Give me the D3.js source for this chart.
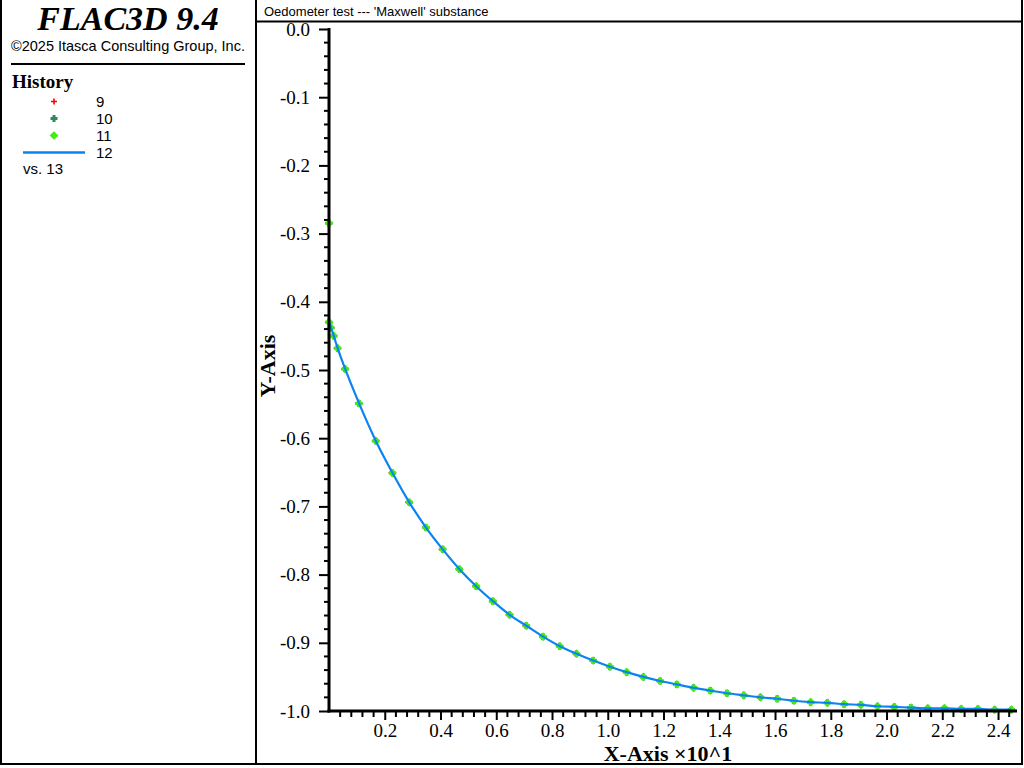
<!DOCTYPE html>
<html>
<head>
<meta charset="utf-8">
<script src="https://cdn.jsdelivr.net/npm/d3@7"></script>
<style>
  body { margin: 0; background: #fff; }
  .serif { font-family: "Liberation Serif", "Times New Roman", serif; }
  .sans { font-family: "Liberation Sans", Arial, sans-serif; }
</style>
</head>
<body>
<div id="chart_container"></div>
<script>
// history sample times (x, in units of 10^1) and values
const startTime = 0;
const startSpike = -0.285;
const histTimes = [0, 0.007, 0.017, 0.031, 0.058, 0.108, 0.168, 0.228, 0.288, 0.348,
  0.408, 0.468, 0.528, 0.588, 0.648, 0.708, 0.768, 0.828, 0.888, 0.948,
  1.008, 1.068, 1.128, 1.188, 1.248, 1.308, 1.368, 1.428, 1.488, 1.548,
  1.608, 1.668, 1.728, 1.788, 1.848, 1.908, 1.968, 2.028, 2.088, 2.148,
  2.208, 2.268, 2.328, 2.388, 2.448];
const histValues = [-0.430, -0.438, -0.450, -0.468, -0.4985, -0.549, -0.604, -0.651, -0.694, -0.731,
  -0.763, -0.792, -0.817, -0.839, -0.859, -0.875, -0.891, -0.905, -0.916, -0.926,
  -0.935, -0.943, -0.950, -0.956, -0.961, -0.966, -0.970, -0.974, -0.977, -0.980,
  -0.982, -0.985, -0.987, -0.988, -0.990, -0.991, -0.993, -0.994, -0.995, -0.996,
  -0.996, -0.997, -0.997, -0.998, -0.998];

const yMajorTicks = [0, -0.1, -0.2, -0.3, -0.4, -0.5, -0.6, -0.7, -0.8, -0.9, -1.0];
const xMajorTicks = [0.2, 0.4, 0.6, 0.8, 1.0, 1.2, 1.4, 1.6, 1.8, 2.0, 2.2, 2.4];
const legendNames = ["9", "10", "11", "12"];

class HistoryPlot {
  constructor(containerId) {
    this.containerId = containerId;
    this.width = 1024;
    this.height = 768;
    this.plot = { left: 329, right: 1017, top: 29, bottom: 711 };
  }

  createSVG() {
    this.svg = d3
      .select(`#${this.containerId}`)
      .append("svg")
      .attr("width", this.width)
      .attr("height", this.height);
  }

  createFrame() {
    const f = this.svg.append("g").attr("stroke", "#000").attr("stroke-width", 2);
    f.append("line").attr("x1", 1).attr("y1", 0).attr("x2", 1).attr("y2", 765);
    f.append("line").attr("x1", 0).attr("y1", 764).attr("x2", 1023).attr("y2", 764);
    f.append("line").attr("x1", 1022).attr("y1", 0).attr("x2", 1022).attr("y2", 765);
    f.append("line").attr("x1", 256).attr("y1", 0).attr("x2", 256).attr("y2", 765);
    f.append("line").attr("x1", 256).attr("y1", 21.5).attr("x2", 1023).attr("y2", 21.5);
    f.append("line").attr("x1", 11).attr("y1", 64).attr("x2", 245).attr("y2", 64);

    this.svg.append("text")
      .attr("class", "sans")
      .attr("x", 264).attr("y", 15.5)
      .attr("font-size", 13)
      .text("Oedometer test --- 'Maxwell' substance");
  }

  createInfoPanel() {
    this.svg.append("text")
      .attr("class", "serif")
      .attr("x", 128).attr("y", 29.5)
      .attr("text-anchor", "middle")
      .attr("font-size", 34)
      .attr("font-weight", "bold")
      .attr("font-style", "italic")
      .text("FLAC3D 9.4");
    this.svg.append("text")
      .attr("class", "sans")
      .attr("x", 11).attr("y", 51)
      .attr("font-size", 14.5)
      .text("\u00a92025 Itasca Consulting Group, Inc.");
    this.svg.append("text")
      .attr("class", "serif")
      .attr("x", 12).attr("y", 87.5)
      .attr("font-size", 19)
      .attr("font-weight", "bold")
      .text("History");

    const rowY = [101.5, 118.5, 135.5, 152.5];
    this.drawRedPlus(this.svg.append("g"), [[54, rowY[0]]]);
    this.drawGreenPlus(this.svg.append("g"), [[54, rowY[1]]]);
    this.drawGreenDot(this.svg.append("g"), [[54, rowY[2]]]);
    this.svg.append("line")
      .attr("x1", 23).attr("x2", 85)
      .attr("y1", rowY[3]).attr("y2", rowY[3])
      .attr("stroke", this.lineColor)
      .attr("stroke-width", 2.5);

    this.svg.append("g")
      .selectAll("text")
      .data(legendNames)
      .join("text")
      .attr("class", "sans")
      .attr("x", 96)
      .attr("y", (d, i) => rowY[i] + 5)
      .attr("font-size", 15)
      .text((d) => d);
    this.svg.append("text")
      .attr("class", "sans")
      .attr("x", 23).attr("y", 174)
      .attr("font-size", 15)
      .text("vs. 13");
  }

  createScales() {
    this.xScale = d3.scaleLinear().domain([0, 2.468]).range([this.plot.left, this.plot.right]);
    this.yScale = d3.scaleLinear().domain([-1, 0]).range([this.plot.bottom, this.plot.top]);
    this.lineColor = "#0a84f0";
  }

  createAxes() {
    const x = this.xScale, y = this.yScale;
    const isMajor = (v, step) => Math.abs(v / step - Math.round(v / step)) < 1e-6;

    const yMinor = d3.range(0, -1.0001, -0.02).filter((v) => !isMajor(v, 0.1));
    const xMinor = d3.range(0.04, 2.468, 0.04).filter((v) => !isMajor(v, 0.2));

    const yAxis = this.svg.append("g")
      .attr("transform", `translate(${this.plot.left}, 0)`)
      .call(d3.axisLeft(y).tickValues(yMajorTicks).tickSize(10).tickPadding(9)
        .tickFormat((d) => d.toFixed(1)));
    yAxis.select(".domain").remove();
    yAxis.selectAll(".tick line").attr("stroke-width", 2);
    yAxis.selectAll(".tick text")
      .attr("class", "serif")
      .attr("font-size", 19)
      .attr("fill", "#000");
    yAxis.append("g")
      .selectAll("line")
      .data(yMinor)
      .join("line")
      .attr("x1", -5).attr("x2", 0)
      .attr("y1", (d) => y(d)).attr("y2", (d) => y(d))
      .attr("stroke", "#000").attr("stroke-width", 2);

    const xAxis = this.svg.append("g")
      .attr("transform", `translate(0, ${this.plot.bottom})`)
      .call(d3.axisBottom(x).tickValues(xMajorTicks).tickSize(9).tickPadding(4)
        .tickFormat((d) => d.toFixed(1)));
    xAxis.select(".domain").remove();
    xAxis.selectAll(".tick line").attr("stroke-width", 2);
    xAxis.selectAll(".tick text")
      .attr("class", "serif")
      .attr("font-size", 19)
      .attr("fill", "#000");
    xAxis.append("g")
      .selectAll("line")
      .data(xMinor)
      .join("line")
      .attr("x1", (d) => x(d)).attr("x2", (d) => x(d))
      .attr("y1", 0).attr("y2", 6)
      .attr("stroke", "#000").attr("stroke-width", 2);

    // axis lines
    this.svg.append("line")
      .attr("x1", this.plot.left).attr("x2", this.plot.left)
      .attr("y1", this.plot.top - 1).attr("y2", this.plot.bottom + 1.5)
      .attr("stroke", "#000").attr("stroke-width", 3);
    this.svg.append("line")
      .attr("x1", this.plot.left - 1.5).attr("x2", this.plot.right)
      .attr("y1", this.plot.bottom).attr("y2", this.plot.bottom)
      .attr("stroke", "#000").attr("stroke-width", 3);
  }

  setAxisTitles() {
    this.svg.append("text")
      .attr("class", "serif")
      .attr("x", 668).attr("y", 760.5)
      .attr("text-anchor", "middle")
      .attr("font-size", 22)
      .attr("font-weight", "bold")
      .text("X-Axis \u00d710^1");
    this.svg.append("text")
      .attr("class", "serif")
      .attr("transform", "translate(275, 366) rotate(-90)")
      .attr("text-anchor", "middle")
      .attr("font-size", 22)
      .attr("font-weight", "bold")
      .text("Y-Axis");
  }

  drawRedPlus(g, pts) {
    g.selectAll("path")
      .data(pts)
      .join("path")
      .attr("d", (d) => `M${d[0] - 3},${d[1]}h6M${d[0]},${d[1] - 3}v6`)
      .attr("stroke", "#ff0000")
      .attr("stroke-width", 1.6);
  }

  drawGreenPlus(g, pts) {
    g.selectAll("path")
      .data(pts)
      .join("path")
      .attr("d", (d) => `M${d[0] - 3.5},${d[1]}h7M${d[0]},${d[1] - 3.5}v7`)
      .attr("stroke", "#2e8b57")
      .attr("stroke-width", 3);
  }

  drawGreenDot(g, pts) {
    g.selectAll("path")
      .data(pts)
      .join("path")
      .attr("d", (d) => `M${d[0] - 3.5},${d[1]}L${d[0]},${d[1] - 3.5}L${d[0] + 3.5},${d[1]}L${d[0]},${d[1] + 3.5}Z`)
      .attr("stroke", "#44ee11")
      .attr("stroke-width", 1.2)
      .attr("fill", "#44ee11");
  }

  createHistories() {
    const x = this.xScale, y = this.yScale;
    const markerData = [[startTime, startSpike]].concat(histTimes.map((t, i) => [t, histValues[i]]));
    const pts = markerData.map((d) => [x(d[0]), y(d[1])]);

    this.drawRedPlus(this.svg.append("g").attr("class", "hist9"), pts.map((p) => [p[0] - 1, p[1]]));
    this.drawGreenPlus(this.svg.append("g").attr("class", "hist10"), pts);
    this.drawGreenDot(this.svg.append("g").attr("class", "hist11"), pts);

    const line = d3.line()
      .x((d) => x(d[0]))
      .y((d) => y(d[1]))
      .curve(d3.curveMonotoneX);
    this.svg.append("path")
      .datum(histTimes.map((t, i) => [t, histValues[i]]))
      .attr("d", line)
      .attr("fill", "none")
      .attr("stroke", this.lineColor)
      .attr("stroke-width", 2.2);
  }

  render() {
    this.createSVG();
    this.createScales();
    this.createFrame();
    this.createInfoPanel();
    this.createHistories();
    this.createAxes();
    this.setAxisTitles();
  }
}

const plot = new HistoryPlot("chart_container");
plot.render();
</script>
</body>
</html>
